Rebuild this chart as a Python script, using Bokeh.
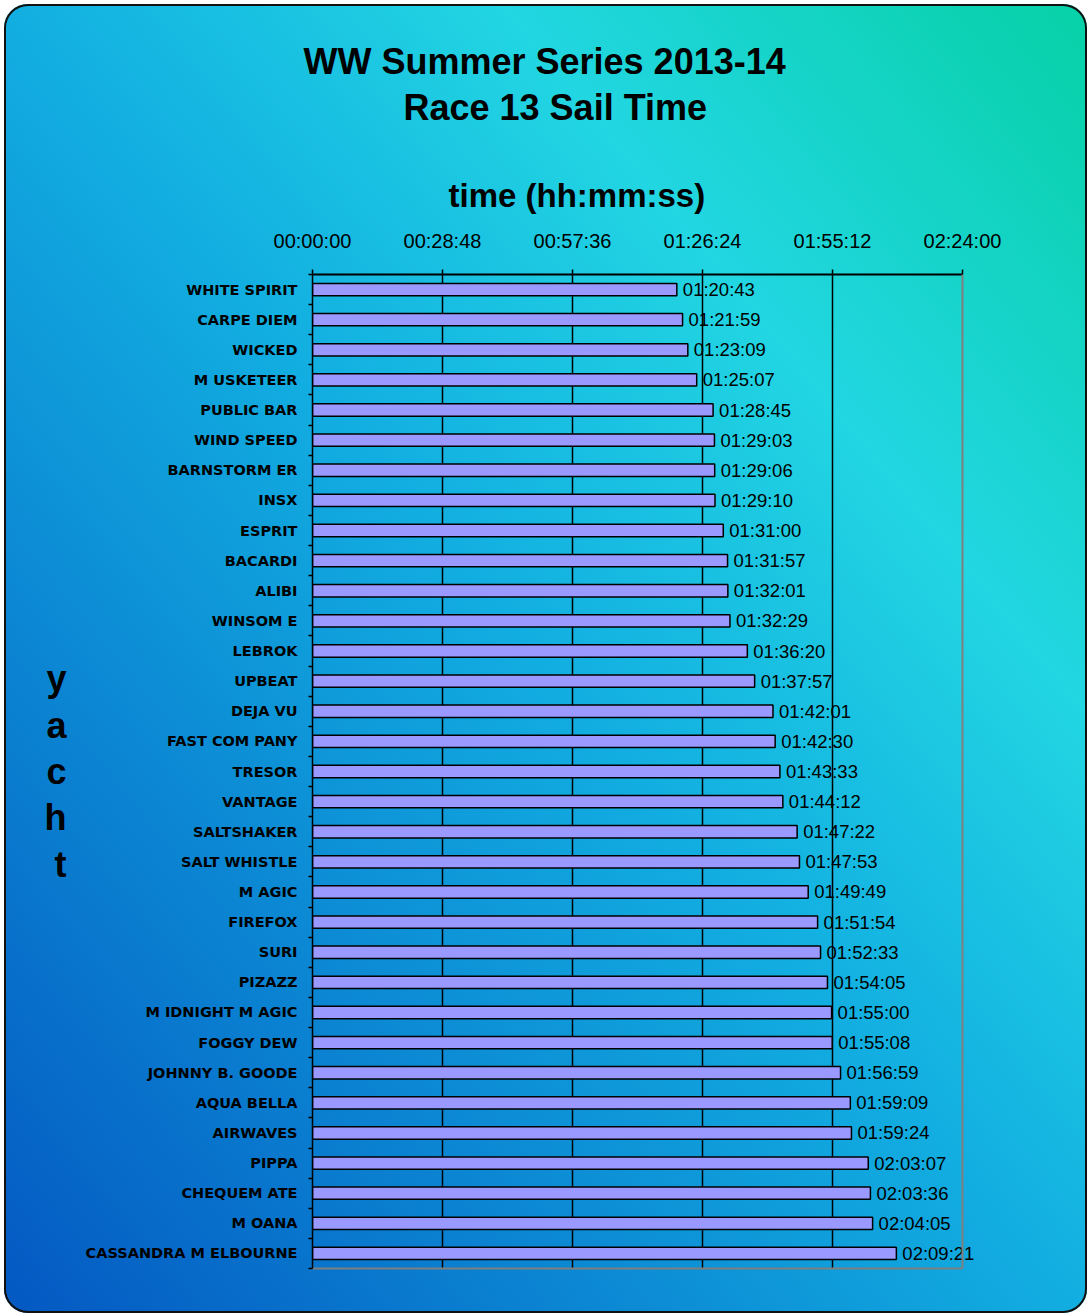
from bokeh.plotting import figure
from bokeh.models import (Range1d, FixedTicker, Title, ColumnDataSource, LabelSet,
                          LinearAxis, Span)
from bokeh.core.properties import value
from bokeh.embed import file_html
from bokeh.resources import INLINE

# ---------------- data ----------------
yachts = [
    "WHITE SPIRIT", "CARPE DIEM", "WICKED", "M USKETEER", "PUBLIC BAR",
    "WIND SPEED", "BARNSTORM ER", "INSX", "ESPRIT", "BACARDI", "ALIBI",
    "WINSOM E", "LEBROK", "UPBEAT", "DEJA VU", "FAST COM PANY", "TRESOR",
    "VANTAGE", "SALTSHAKER", "SALT WHISTLE", "M AGIC", "FIREFOX", "SURI",
    "PIZAZZ", "M IDNIGHT M AGIC", "FOGGY DEW", "JOHNNY B. GOODE", "AQUA BELLA",
    "AIRWAVES", "PIPPA", "CHEQUEM ATE", "M OANA", "CASSANDRA M ELBOURNE",
]
sail_times = [
    "01:20:43", "01:21:59", "01:23:09", "01:25:07", "01:28:45",
    "01:29:03", "01:29:06", "01:29:10", "01:31:00", "01:31:57", "01:32:01",
    "01:32:29", "01:36:20", "01:37:57", "01:42:01", "01:42:30", "01:43:33",
    "01:44:12", "01:47:22", "01:47:53", "01:49:49", "01:51:54", "01:52:33",
    "01:54:05", "01:55:00", "01:55:08", "01:56:59", "01:59:09",
    "01:59:24", "02:03:07", "02:03:36", "02:04:05", "02:09:21",
]
x_tick_labels = ["00:00:00", "00:28:48", "00:57:36", "01:26:24", "01:55:12", "02:24:00"]


def to_seconds(s):
    h, m, sec = (int(v) for v in s.split(":"))
    return h * 3600 + m * 60 + sec


secs = [to_seconds(t) for t in sail_times]
x_ticks = [to_seconds(t) for t in x_tick_labels]
idx = list(range(len(yachts)))

source = ColumnDataSource(data=dict(y=idx, secs=secs, label=sail_times))

# ---------------- layout (pixels) ----------------
W, H = 1083, 1309
AXIS_LEFT, AXIS_RIGHT = 308, 958      # where 00:00:00 and 02:24:00 fall
FRAME_RIGHT = 1036                    # frame runs on so the last label is not clipped
x_end = x_ticks[-1] * (FRAME_RIGHT - AXIS_LEFT) / (AXIS_RIGHT - AXIS_LEFT)

p = figure(
    width=W, height=H,
    x_range=Range1d(x_ticks[0], x_end),
    y_range=Range1d(len(yachts) - 0.5, -0.5),
    x_axis_location="above",
    title=None,
    output_backend="svg",
    toolbar_location=None,
    min_border_left=AXIS_LEFT, min_border_right=W - FRAME_RIGHT,
    min_border_top=270, min_border_bottom=45,
)
p.styles = {
    "background": "linear-gradient(to top right, #0458c2 0%, #12aee1 50%, #22d6e2 73%, #06d1a6 100%)",
    "border-radius": "24px",
    "box-shadow": "inset 0 0 0 2px #111111",
    "margin-left": "4px",
    "margin-top": "4px",
}
p.background_fill_alpha = 0
p.border_fill_alpha = 0
p.outline_line_color = None

# bars
p.hbar(y="y", left=0, right="secs", height=0.41, source=source,
       fill_color="#9999FF", line_color="#000000", line_width=1.5)

# data labels
labels = LabelSet(x="secs", y="y", text="label", source=source, x_offset=6,
                  text_baseline="middle", text_align="left",
                  text_font=value("Liberation Sans"), text_font_size=value("18.5px"),
                  text_color="#000000")
p.add_layout(labels)

# x axis (top)
xa = p.xaxis[0]
xa.bounds = (x_ticks[0], x_ticks[-1])
xa.ticker = FixedTicker(ticks=x_ticks, minor_ticks=[])
xa.major_label_overrides = {t: lab for t, lab in zip(x_ticks, x_tick_labels)}
xa.major_label_text_font = "Liberation Sans"
xa.major_label_text_font_size = "20px"
xa.major_label_text_color = "#000000"
xa.major_label_standoff = 18
xa.major_tick_in = 0
xa.major_tick_out = 5
xa.major_tick_line_color = "#000000"
xa.major_tick_line_width = 1.5
xa.axis_line_color = "#000000"
xa.axis_line_width = 2

# plot-area bottom and right edges (grey)
xb = LinearAxis(ticker=FixedTicker(ticks=[]), bounds=(x_ticks[0], x_ticks[-1]),
                axis_line_color="#7f7f7f", axis_line_width=2,
                major_tick_line_color=None, minor_tick_line_color=None,
                major_label_text_font_size="0px")
p.add_layout(xb, "below")
p.add_layout(Span(location=x_ticks[-1], dimension="height",
                  line_color="#7f7f7f", line_width=2))

# y axis (left)
ya = p.yaxis[0]
ya.ticker = FixedTicker(ticks=idx, minor_ticks=[i - 0.5 for i in range(len(yachts) + 1)])
ya.major_label_overrides = {i: n for i, n in zip(idx, yachts)}
ya.major_label_text_font = "DejaVu Sans"
ya.major_label_text_font_style = "bold"
ya.major_label_text_font_size = "14.5px"
ya.major_label_text_color = "#000000"
ya.major_tick_line_color = None
ya.major_tick_in = 0
ya.major_tick_out = 0
ya.major_label_standoff = 11
ya.minor_tick_in = 0
ya.minor_tick_out = 4
ya.minor_tick_line_color = "#000000"
ya.minor_tick_line_width = 1.5
ya.axis_line_color = "#000000"
ya.axis_line_width = 1.5
ya.axis_label = "y\na\nc\nh\nt"
ya.axis_label_orientation = "horizontal"
ya.axis_label_text_font = "Liberation Sans"
ya.axis_label_text_font_style = "bold"
ya.axis_label_text_font_size = "36px"
ya.axis_label_text_line_height = 1.13
ya.axis_label_standoff = 16
ya.axis_label_text_color = "#000000"

# grid
p.xgrid.grid_line_color = "#000000"
p.xgrid.grid_line_width = 1.5
p.xgrid.ticker = FixedTicker(ticks=x_ticks[:-1])
p.ygrid.grid_line_color = None

# titles (stacked above, nearest first)
p.add_layout(Title(text="time (hh:mm:ss)", align="left", offset=136,
                   text_font="Liberation Sans", text_font_style="bold",
                   text_font_size="33px", text_color="#000000", standoff=25), "above")
p.add_layout(Title(text="Race 13 Sail Time", align="left", offset=91,
                   text_font="Liberation Sans", text_font_style="bold",
                   text_font_size="36px", text_color="#000000", standoff=69), "above")
p.add_layout(Title(text="WW Summer Series 2013-14", align="left", offset=-9,
                   text_font="Liberation Sans", text_font_style="bold",
                   text_font_size="36px", text_color="#000000", standoff=-63), "above")

open("out.html", "w").write(file_html(p, INLINE))
